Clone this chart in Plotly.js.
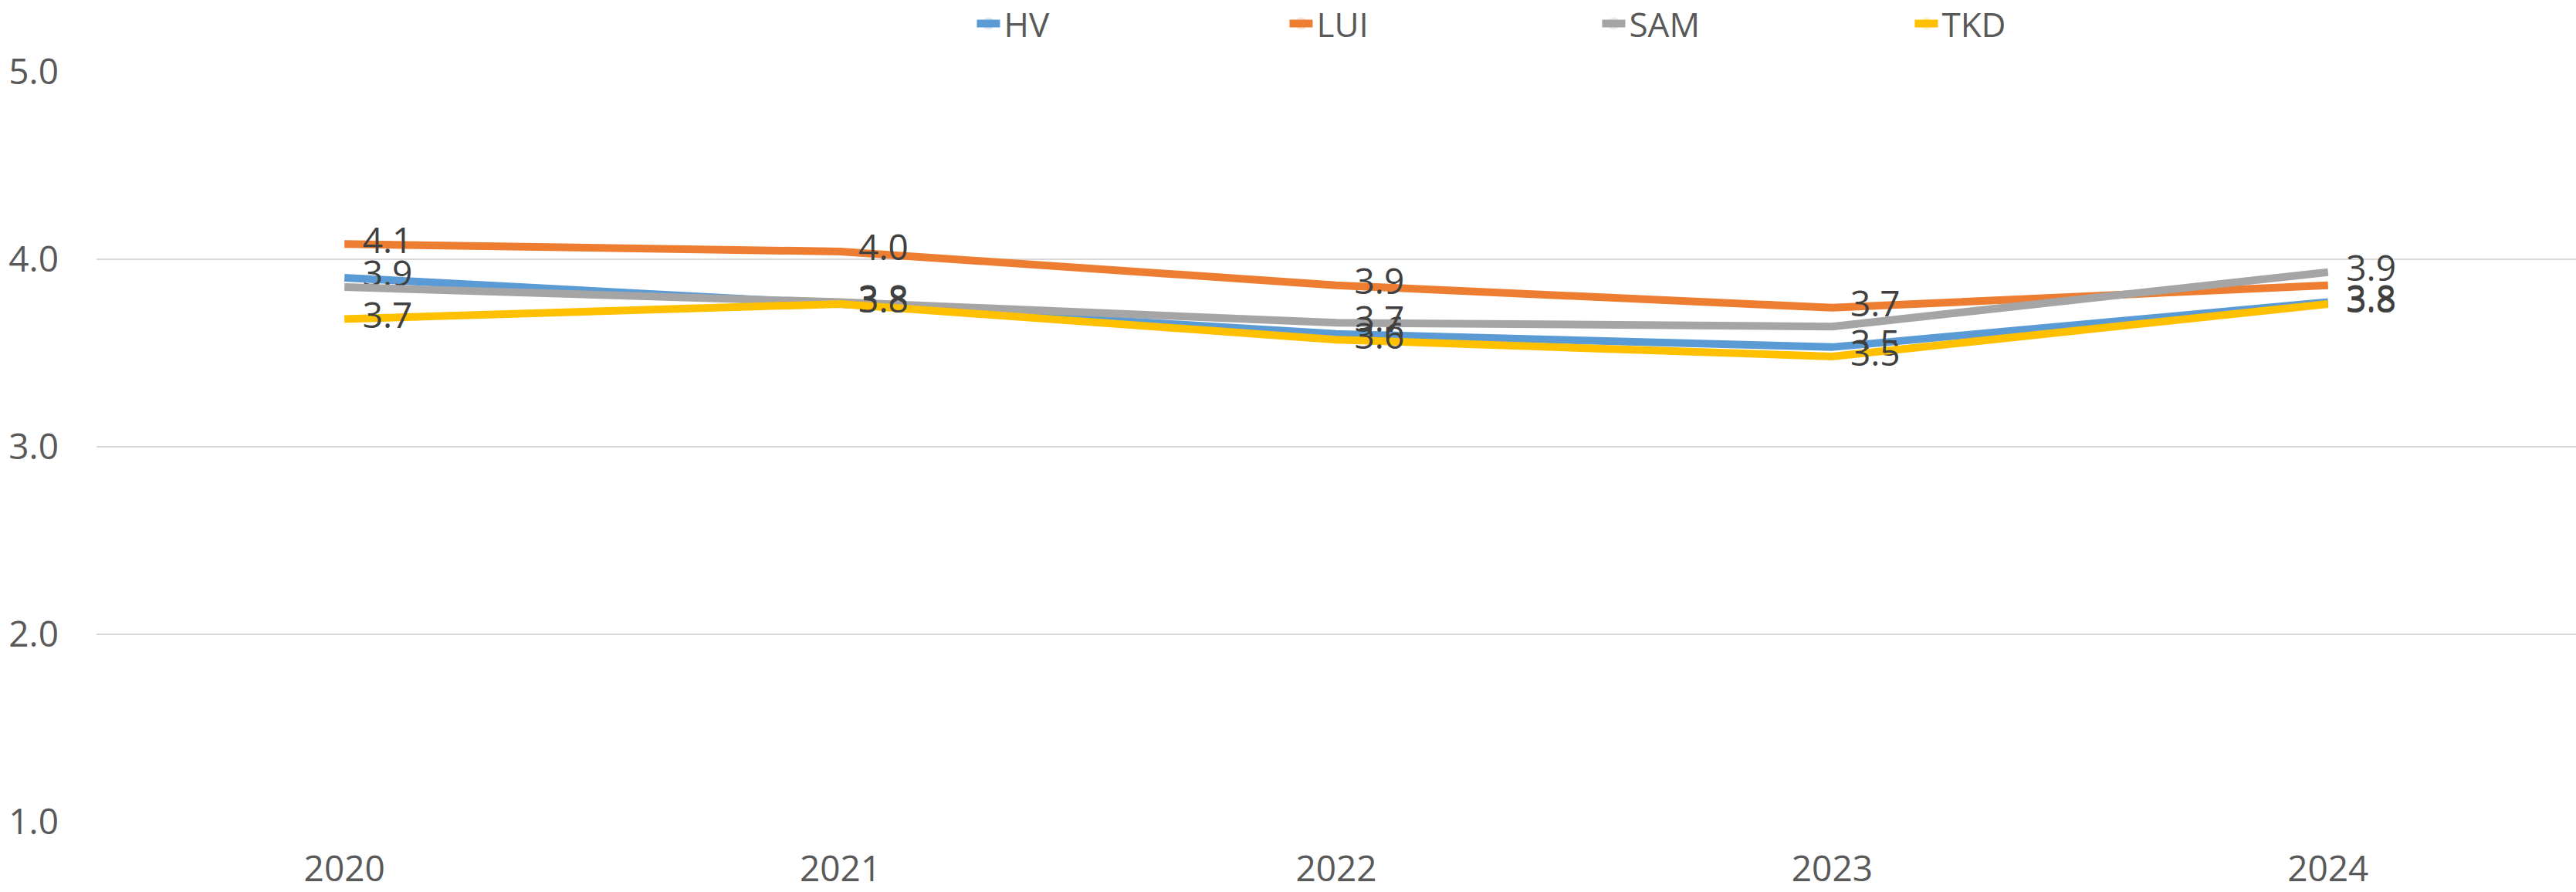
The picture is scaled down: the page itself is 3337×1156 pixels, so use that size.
<!DOCTYPE html>
<html>
<head>
<meta charset="utf-8">
<script src="https://cdn.plot.ly/plotly-3.0.1.min.js"></script>
<style>
html,body{margin:0;padding:0;background:#fff;}
#chart{width:3337px;height:1156px;}
</style>
</head>
<body>
<div id="chart"></div>
<script>
// Data
var years = ['2020', '2021', '2022', '2023', '2024'];
var seriesNames = ['HV', 'LUI', 'SAM', 'TKD'];
var hv  = [3.90, 3.76, 3.60, 3.53, 3.77];
var lui = [4.08, 4.04, 3.86, 3.74, 3.86];
var sam = [3.85, 3.77, 3.66, 3.64, 3.93];
var tkd = [3.68, 3.76, 3.57, 3.48, 3.76];
// which data labels are shown in the reference
var hvShow  = [true, true, true, true, true];
var luiShow = [true, true, true, true, false];
var samShow = [false, true, true, false, true];
var tkdShow = [true, true, true, true, true];
var yTicks = [1, 2, 3, 4, 5];
var yTickText = ['1.0', '2.0', '3.0', '4.0', '5.0'];

var colors = ['#5B9BD5', '#ED7D31', '#A5A5A5', '#FFC000'];
var allValues = [hv, lui, sam, tkd];
var allShow = [hvShow, luiShow, samShow, tkdShow];
var FONT = '"Open Sans", "Liberation Sans", sans-serif';

var traces = seriesNames.map(function (name, i) {
  var vals = allValues[i];
  return {
    type: 'scatter',
    mode: 'lines+markers+text',
    name: name,
    x: years,
    y: vals,
    text: vals.map(function (v, j) { return allShow[i][j] ? v.toFixed(1) : ''; }),
    textposition: 'middle right',
    textfont: {family: FONT, size: 46, color: '#404040'},
    line: {color: colors[i], width: 10, shape: 'linear'},
    marker: {size: 36, opacity: 0, color: colors[i]},
    cliponaxis: false,
    hoverinfo: 'x+y+name'
  };
});

var layout = {
  width: 3337,
  height: 1156,
  margin: {l: 125, r: 0, t: 92, b: 91, pad: 0, autoexpand: false},
  paper_bgcolor: '#ffffff',
  plot_bgcolor: '#ffffff',
  font: {family: FONT, size: 46, color: '#595959'},
  showlegend: true,
  legend: {
    orientation: 'h',
    x: 0.3535, xanchor: 'left',
    y: 1.0627, yanchor: 'middle',
    entrywidth: 360, entrywidthmode: 'pixels',
    font: {family: FONT, size: 44, color: '#595959'},
    bgcolor: 'rgba(0,0,0,0)',
    traceorder: 'normal'
  },
  xaxis: {
    type: 'category',
    categoryorder: 'array',
    categoryarray: years,
    range: [-0.5, 4.5],
    showgrid: false,
    zeroline: false,
    showline: false,
    ticks: '',
    ticklabelstandoff: 30,
    tickfont: {family: FONT, size: 46, color: '#595959'},
    fixedrange: true
  },
  yaxis: {
    range: [0.998, 5.003],
    tickmode: 'array',
    tickvals: yTicks,
    ticktext: yTickText,
    showgrid: true,
    gridcolor: '#D9D9D9',
    gridwidth: 2,
    zeroline: false,
    showline: false,
    ticks: '',
    ticklabelstandoff: 48,
    tickfont: {family: FONT, size: 46, color: '#595959'},
    fixedrange: true
  }
};

Plotly.newPlot('chart', traces, layout, {displayModeBar: false, staticPlot: true});
</script>
</body>
</html>
